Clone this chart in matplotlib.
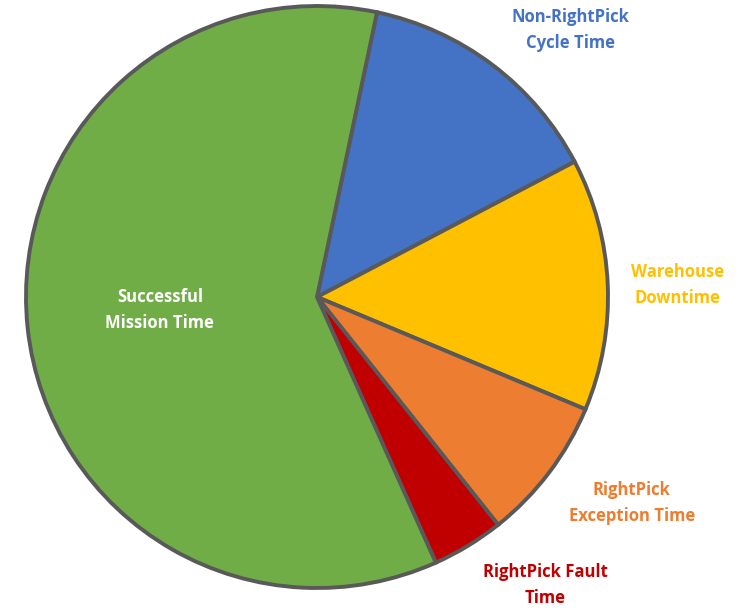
import matplotlib.pyplot as plt

labels = ['Non-RightPick\nCycle Time', 'Warehouse\nDowntime', 'RightPick\nException Time',
          'RightPick Fault\nTime', 'Successful\nMission Time']
values = [14, 14, 8, 4, 60]
colors = ['#4472C4', '#FFC000', '#ED7D31', '#C00000', '#70AD47']
text_colors = ['#4472C4', '#FFC000', '#ED7D31', '#C00000', 'white']
label_pos = [(0.87, 0.918), (1.24, 0.041), (1.082, -0.708), (0.784, -0.99), (-0.54, -0.045)]

fig = plt.figure(figsize=(7.43, 6.1), dpi=100)
ax = fig.add_axes((26 / 743, 22 / 610, 582 / 743, 582 / 610))

ax.pie(values, colors=colors, startangle=78.1, counterclock=False,
       wedgeprops=dict(edgecolor='#595959', linewidth=2.8))
ax.set_xlim(-1, 1)
ax.set_ylim(-1, 1)
ax.set_aspect('equal')
ax.axis('off')

for lab, (x, y), c in zip(labels, label_pos, text_colors):
    ax.text(x, y, lab, color=c, ha='center', va='center', fontsize=12,
            fontweight='bold', family='Open Sans', linespacing=1.6)

fig.savefig('out.png', dpi=100)
